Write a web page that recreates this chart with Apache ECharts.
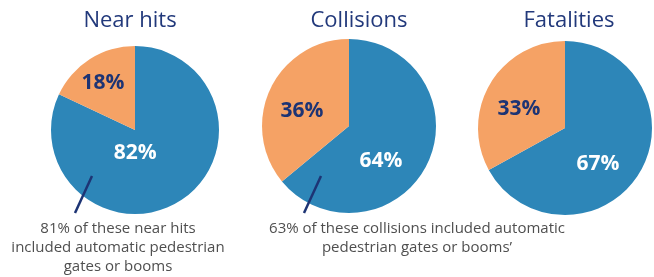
<!DOCTYPE html>
<html>
<head>
<meta charset="utf-8">
<script src="https://cdn.jsdelivr.net/npm/echarts@6/dist/echarts.min.js"></script>
<style>
  html, body { margin: 0; padding: 0; background: #fff; }
  #chart { width: 654px; height: 277px; }
</style>
</head>
<body>
<div id="chart"></div>
<script>
// data
const pieTitles = ['Near hits', 'Collisions', 'Fatalities'];
const blueShare = [82, 64, 67];
const orangeShare = [18, 36, 33];
const notes = [
  ['81% of these near hits', 'included automatic pedestrian', 'gates or booms'],
  ['63% of these collisions included automatic', 'pedestrian gates or booms\u2019'],
  []
];

const BLUE = '#2d86b8';
const ORANGE = '#f5a265';
const NAVY = '#1d3474';

// layout of each pie (px)
const centers = [[135, 130], [349, 126], [565, 128]];
const radii = [84, 87, 87];
const titleX = [130, 359, 569];
// label nudges [blue, orange]
const nudges = [
  [[-24, -15], [-8, -9]],
  [[-10, 15], [-5, 5]],
  [[-7, 12], [-6, 5]]
];
const noteX = [118, 417];
const pointers = [[92, 176, 75, 213], [321, 176, 304, 213]];

let chart = echarts.init(document.getElementById('chart'));

let series = pieTitles.map(function (name, i) {
  return {
    type: 'pie',
    name: name,
    center: centers[i],
    radius: radii[i],
    startAngle: 90,
    clockwise: true,
    silent: true,
    itemStyle: { borderWidth: 0 },
    label: {
      show: true,
      position: 'inside',
      formatter: '{c}%',
      fontFamily: 'Open Sans',
      fontWeight: 'bold',
      fontSize: 21
    },
    labelLine: { show: false },
    labelLayout: function (p) {
      let n = nudges[i][p.dataIndex];
      return { dx: n[0], dy: n[1] };
    },
    data: [
      { value: blueShare[i], itemStyle: { color: BLUE }, label: { color: '#ffffff' } },
      { value: orangeShare[i], itemStyle: { color: ORANGE }, label: { color: NAVY } }
    ]
  };
});

let graphics = [];
pieTitles.forEach(function (t, i) {
  graphics.push({
    type: 'text',
    x: titleX[i],
    y: 21,
    z: 100,
    silent: true,
    style: {
      text: t,
      fill: '#22397b',
      font: '22px "Open Sans"',
      textAlign: 'center',
      textVerticalAlign: 'middle'
    }
  });
});
notes.forEach(function (lines, i) {
  if (!lines.length) return;
  graphics.push({
    type: 'line',
    silent: true,
    z: 100,
    shape: { x1: pointers[i][0], y1: pointers[i][1], x2: pointers[i][2], y2: pointers[i][3] },
    style: { stroke: NAVY, lineWidth: 2.5 }
  });
  lines.forEach(function (l, k) {
    graphics.push({
      type: 'text',
      x: noteX[i],
      y: 229 + k * 19,
      z: 100,
      silent: true,
      style: {
        text: l,
        fill: '#4f4f4f',
        font: '15px "Open Sans"',
        textAlign: 'center',
        textVerticalAlign: 'middle'
      }
    });
  });
});

chart.setOption({
  animation: false,
  series: series,
  graphic: graphics
});
</script>
</body>
</html>
